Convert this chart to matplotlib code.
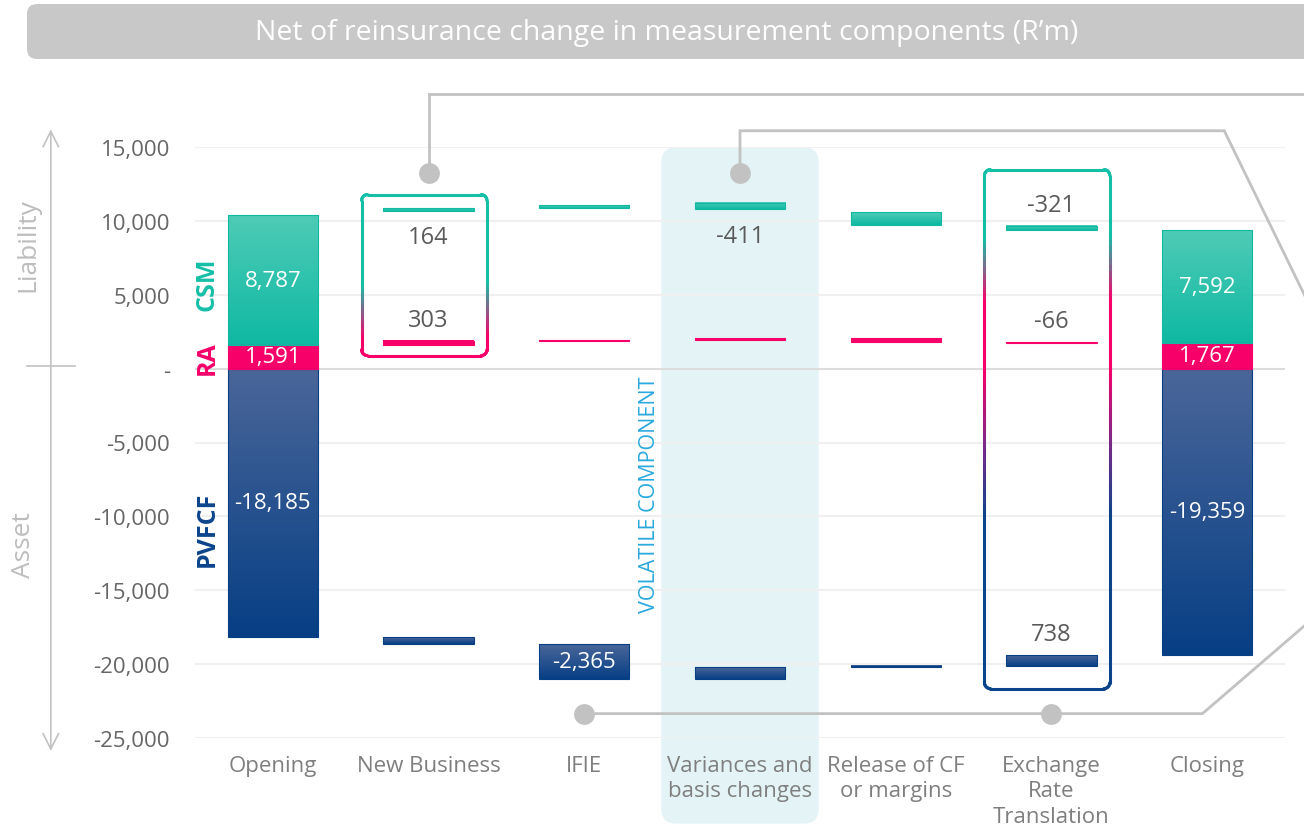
import numpy as np
import matplotlib
matplotlib.use("Agg")
import matplotlib.pyplot as plt
from matplotlib.patches import FancyBboxPatch, Rectangle
from matplotlib.collections import LineCollection
from matplotlib.colors import LinearSegmentedColormap, to_rgb

plt.rcParams["font.family"] = ["Open Sans", "DejaVu Sans"]

# -------------------------------
# Data (R'm)
# -------------------------------
categories = ["Opening", "New Business", "IFIE", "Variances and\nbasis changes",
              "Release of CF\nor margins", "Exchange\nRate\nTranslation", "Closing"]
csm = [8787, 164, 200, -411, -827, -321, 7592]
ra = [1591, 303, 60, 100, -221, -66, 1767]
pvfcf = [-18185, -467, -2365, 790, 130, 738, -19359]
totals = [0, 6]
yticks = [15000, 10000, 5000, 0, -5000, -10000, -15000, -20000, -25000]

# which values get a label: (category, series, placement)
labels = [
    (0, "csm", "in"), (0, "ra", "in"), (0, "pvfcf", "in"),
    (1, "csm", "below"), (1, "ra", "above"),
    (2, "pvfcf", "in"),
    (3, "csm", "below"),
    (5, "csm", "above"), (5, "ra", "above"), (5, "pvfcf", "above"),
    (6, "csm", "in"), (6, "ra", "in"), (6, "pvfcf", "in"),
]

# -------------------------------
# Styles
# -------------------------------
TEAL = "#15bfa7"
PINK = "#f7006a"
NAVY = "#0b448b"
GREY = "#c2c2c2"
TXT = "#5a5a5a"
grad = {
    "csm": ("#4ecbb7", "#0fb9a2"),
    "ra": (PINK, PINK),
    "pvfcf": ("#4a6699", "#073f85"),
}
BAR_W = 0.58

W, H = 1304, 828
fig = plt.figure(figsize=(W / 100, H / 100), dpi=100)
ax = fig.add_axes([195 / W, 1 - 739 / H, 1090 / W, 591 / H])
ax.set_xlim(-0.5, 6.5)
ax.set_ylim(-25000, 15000)
PXX = 1090 / 7.0          # pixels per category
PXY = 591 / 40000.0       # pixels per R'm


def fmt(v):
    return "-" if v == 0 else f"{v:,.0f}"


def grad_bar(x, y0, y1, key):
    lo, hi = min(y0, y1), max(y0, y1)
    c_top, c_bot = [np.array(to_rgb(c)) for c in grad[key]]
    t = np.linspace(0, 1, 64)[:, None]
    img = (c_bot * (1 - t) + c_top * t)[:, None, :]
    ax.imshow(img, extent=[x - BAR_W / 2, x + BAR_W / 2, lo, hi], origin="lower",
              aspect="auto", interpolation="bilinear", zorder=3)
    ax.add_patch(Rectangle((x - BAR_W / 2, lo), BAR_W, hi - lo, fill=False,
                           edgecolor=grad[key][1], lw=0.8, zorder=3.1))


def rrect(x0, x1, y0, y1, r_px, n=80):
    rx, ry = r_px / PXX, r_px / PXY
    pts = []
    def edge(a, b):
        for s in np.linspace(0, 1, n):
            pts.append((a[0] + (b[0] - a[0]) * s, a[1] + (b[1] - a[1]) * s))
    def arc(cx, cy, a0, a1):
        for a in np.linspace(np.radians(a0), np.radians(a1), 12):
            pts.append((cx + rx * np.cos(a), cy + ry * np.sin(a)))
    edge((x0 + rx, y1), (x1 - rx, y1))
    arc(x1 - rx, y1 - ry, 90, 0)
    edge((x1, y1 - ry), (x1, y0 + ry))
    arc(x1 - rx, y0 + ry, 0, -90)
    edge((x1 - rx, y0), (x0 + rx, y0))
    arc(x0 + rx, y0 + ry, -90, -180)
    edge((x0, y0 + ry), (x0, y1 - ry))
    arc(x0 + rx, y1 - ry, 180, 90)
    return np.array(pts)


def gradient_box(x0, x1, y0, y1, stops):
    pts = rrect(x0, x1, y0, y1, 6)
    segs = np.stack([pts[:-1], pts[1:]], axis=1)
    cmap = LinearSegmentedColormap.from_list("edge", stops)
    frac = (segs[:, :, 1].mean(axis=1) - y0) / (y1 - y0)
    lc = LineCollection(segs, colors=cmap(frac), lw=2.2, zorder=4, clip_on=False,
                        capstyle="round")
    ax.add_collection(lc)


# -------------------------------
# Background: volatile column, grid
# -------------------------------
shade = FancyBboxPatch((3 - 0.506, -30800), 1.012, 45800,
                       boxstyle="round,pad=0,rounding_size=0.1",
                       mutation_aspect=PXX / PXY, fc="#e4f4f6", ec="none",
                       zorder=0.5, clip_on=False)
ax.add_patch(shade)

for v in yticks:
    ax.axhline(v, color="#dcdcdc" if v == 0 else "#f0f0f0", lw=1.5, zorder=1)

# -------------------------------
# Waterfall bars
# -------------------------------
segs = {"csm": [], "ra": [], "pvfcf": []}
cum_ra = cum_csm = cum_p = 0
for i in range(len(categories)):
    if i in totals:
        segs["ra"].append((0, ra[i]))
        segs["csm"].append((ra[i], ra[i] + csm[i]))
        segs["pvfcf"].append((0, pvfcf[i]))
        cum_ra, cum_csm, cum_p = ra[i], csm[i], pvfcf[i]
    else:
        new_ra = cum_ra + ra[i]
        segs["ra"].append((cum_ra, new_ra))
        segs["csm"].append((new_ra + cum_csm, new_ra + cum_csm + csm[i]))
        segs["pvfcf"].append((cum_p, cum_p + pvfcf[i]))
        cum_ra, cum_csm, cum_p = new_ra, cum_csm + csm[i], cum_p + pvfcf[i]
    for key in ("pvfcf", "ra", "csm"):
        y0, y1 = segs[key][i]
        grad_bar(i, y0, y1, key)

values = {"csm": csm, "ra": ra, "pvfcf": pvfcf}
for i, key, where in labels:
    y0, y1 = segs[key][i]
    txt = fmt(values[key][i])
    if where == "in":
        ax.text(i, (y0 + y1) / 2, txt, ha="center", va="center", color="white",
                fontsize=16, zorder=5)
    elif where == "above":
        ax.annotate(txt, (i, max(y0, y1)), xytext=(0, 15), textcoords="offset points",
                    ha="center", va="center", color=TXT, fontsize=17, zorder=5)
    else:
        ax.annotate(txt, (i, min(y0, y1)), xytext=(0, -19), textcoords="offset points",
                    ha="center", va="center", color=TXT, fontsize=17, zorder=5)

# -------------------------------
# Boxes and connectors
# -------------------------------
gradient_box(1 - 0.43, 1 + 0.375, 880, 11780,
             [(0, PINK), (0.12, PINK), (0.45, TEAL), (1, TEAL)])
gradient_box(5 - 0.43, 5 + 0.375, -21660, 13470,
             [(0, NAVY), (0.33, NAVY), (0.47, "#7a2a88"), (0.62, PINK),
              (0.75, PINK), (0.87, TEAL), (1, TEAL)])

conn = dict(color=GREY, lw=2, zorder=2, clip_on=False, solid_joinstyle="miter")
ax.plot([1, 1, 6.9], [13260, 18600, 18600], **conn)
ax.plot([3, 3, 6.11, 6.8], [13260, 16100, 16100, 1200], **conn)
ax.plot([2, 5.97, 6.62, 6.8], [-23350, -23350, -17450, -15820], **conn)
ax.plot([1, 3, 2, 5], [13260, 13260, -23350, -23350], "o", ms=15, color=GREY,
        mec="none", zorder=2.5, clip_on=False)

# -------------------------------
# Axis text
# -------------------------------
ax.set_yticks(yticks)
ax.set_yticklabels([fmt(v) for v in yticks], fontsize=16, color="#666666")
ax.set_xticks(range(len(categories)))
ax.set_xticklabels(categories, fontsize=16, color="#7f7f7f", linespacing=1.3)
ax.tick_params(length=0, axis="y", pad=18)
ax.tick_params(length=0, axis="x", pad=12)
for s in ax.spines.values():
    s.set_visible(False)

ax.text(-0.424, 5750, "CSM", rotation=90, ha="center", va="center", color=TEAL,
        fontsize=18, fontweight="bold", zorder=5)
ax.text(-0.424, 800, "RA", rotation=90, ha="center", va="center", color=PINK,
        fontsize=18, fontweight="bold", zorder=5)
ax.text(-0.424, -10830, "PVFCF", rotation=90, ha="center", va="center", color=NAVY,
        fontsize=18, fontweight="bold", zorder=5)
ax.text(2.42, -8460, "VOLATILE COMPONENT", rotation=90, ha="center", va="center",
        color="#2aa9de", fontsize=15.5, zorder=5)

# liability / asset arrow on the far left
ax.annotate("", xy=(-1.426, 16380), xytext=(-1.426, -26060),
            arrowprops=dict(arrowstyle="<->", color=GREY, lw=1.2, mutation_scale=28),
            annotation_clip=False)
ax.plot([-1.58, -1.27], [200, 200], color=GREY, lw=1.2, clip_on=False)
ax.text(-1.574, 8460, "Liability", rotation=90, ha="center", va="center",
        color="#bdbdbd", fontsize=19)
ax.text(-1.6, -11845, "Asset", rotation=90, ha="center", va="center",
        color="#bdbdbd", fontsize=19)

# -------------------------------
# Title bar
# -------------------------------
r = 10
fig.patches.append(FancyBboxPatch((27 / W, 1 - 60 / H), 1.1, 55 / H,
                                  boxstyle=f"round,pad=0,rounding_size={r / W}",
                                  mutation_aspect=W / H, transform=fig.transFigure,
                                  fc="#c8c8c8", ec="none"))
fig.text(667 / W, 1 - 33 / H, "Net of reinsurance change in measurement components (R\u2019m)",
         ha="center", va="center", color="white", fontsize=20.5)

fig.savefig("out.png", dpi=100)
